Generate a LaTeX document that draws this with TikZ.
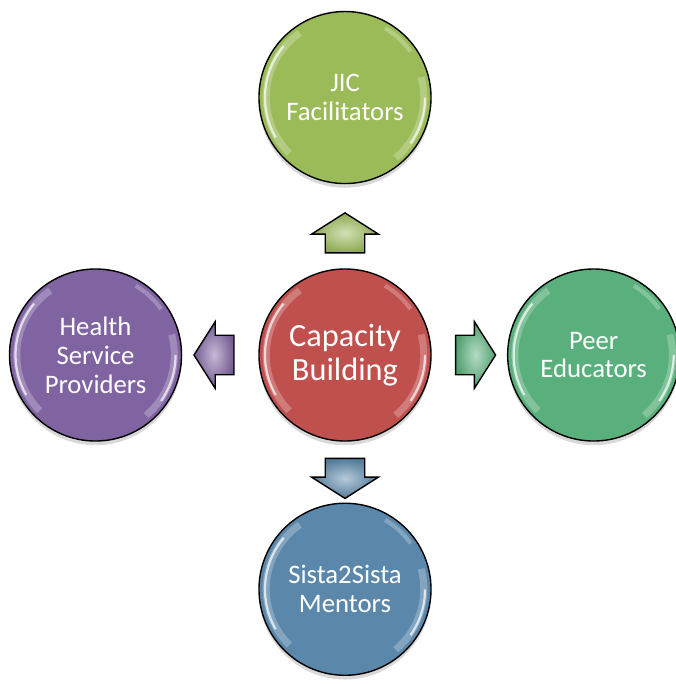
\documentclass[tikz,border=0pt]{standalone}
\usepackage{fontspec}
\setmainfont{Carlito}
\usetikzlibrary{positioning,shapes.arrows,shadows,calc}

\definecolor{capred}{RGB}{192,80,77}
\definecolor{jicgreen}{RGB}{155,187,89}
\definecolor{peergreen}{RGB}{90,176,124}
\definecolor{sistablue}{RGB}{91,136,170}
\definecolor{hsppurple}{RGB}{128,100,162}

\begin{document}
\begin{tikzpicture}[x=0.025cm,y=-0.025cm,
    hub/.style={circle,draw=black,line width=1pt,minimum size=4.3cm,inner sep=0pt,
      text=white,align=center,font=\fontsize{19}{20.5}\selectfont,
      drop shadow={opacity=.3,shadow xshift=0pt,shadow yshift=-3pt},
      path picture={
        \foreach \a/\b in {125/225,-50/15}{
          \draw[white,opacity=.25,line width=5pt] (path picture bounding box.center) ++(\a:1.97cm) arc[start angle=\a,end angle=\b,radius=1.97cm];
          \draw[white,opacity=.7,line width=1.6pt] (path picture bounding box.center) ++(\a+15:2cm) arc[start angle=\a+15,end angle=\b-15,radius=2cm];
        }
        \draw[white,opacity=.25,line width=3pt] (path picture bounding box.center) ++(35:2cm) arc[start angle=35,end angle=60,radius=2cm];}},
    push/.style={single arrow,draw=black,line width=1pt,minimum height=1cm,minimum width=1.62cm,
      inner xsep=0pt,inner ysep=.475cm,single arrow head extend=.34cm,single arrow tip angle=115,
      inner color=#1!45,outer color=#1!90!black}]
  \useasboundingbox (0,0) rectangle (676,684);

  % centre and the four groups round it
  \node[hub,fill=capred,font=\fontsize{23}{24.5}\selectfont] (cb) at (345,355) {Capacity\\Building};
  \node[hub,fill=jicgreen,above=2.1cm of cb]    (jic)   {JIC\\Facilitators};
  \node[hub,fill=peergreen,right=1.88cm of cb]  (peer)  {Peer\\Educators};
  \node[hub,fill=sistablue,below=1.52cm of cb]  (sista) {Sista2Sista\\Mentors};
  \node[hub,fill=hsppurple,left=1.9cm of cb]    (hsp)   {Health\\Service\\Providers};

  % arrows between them
  \node[push=jicgreen,rotate=90]   (toJic)   at ($(cb)!.45!(jic)$)  {};
  \node[push=peergreen]            (toPeer)  at ($(cb)!.5!(peer)$)  {};
  \node[push=sistablue,rotate=270] (toSista) at ($(cb)!.5!(sista)$) {};
  \node[push=hsppurple,rotate=180] (toHsp)   at ($(cb)!.5!(hsp)$)   {};
\end{tikzpicture}
\end{document}
